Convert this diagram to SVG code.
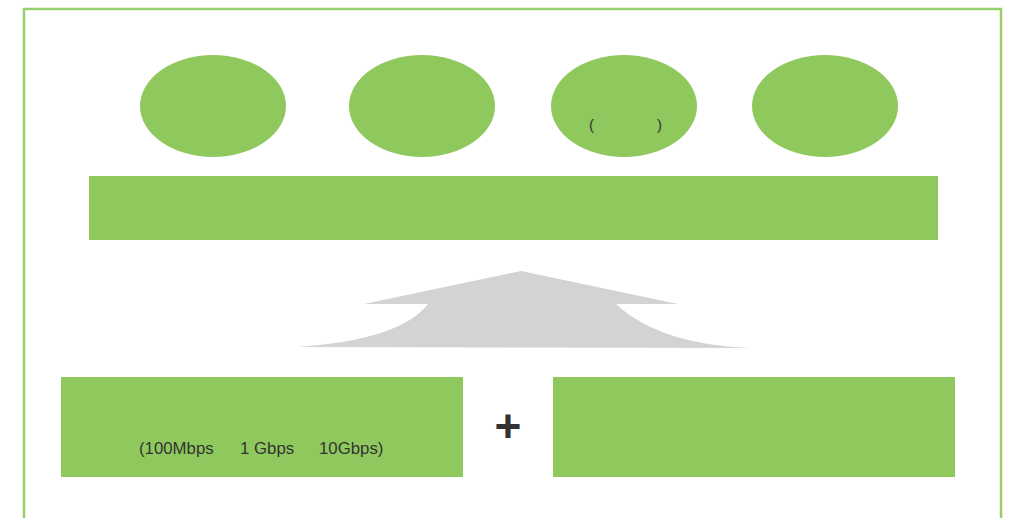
<svg xmlns="http://www.w3.org/2000/svg" width="1015" height="518" viewBox="0 0 1015 518">
<style>
.g{fill:#8fc95d}
.t{font-family:"Liberation Sans",Arial,sans-serif;fill:#333;}
.s{font-size:16.8px}
</style>
<rect width="1015" height="518" fill="#fff"/>
<rect x="24" y="9" width="977" height="530" fill="none" stroke="#96d06a" stroke-width="2.5"/>
<g id="e1"><ellipse class="g" cx="213" cy="106" rx="73" ry="51"/></g>
<g id="e2"><ellipse class="g" cx="422" cy="106" rx="73" ry="51"/></g>
<g id="e3"><ellipse class="g" cx="624" cy="106" rx="73" ry="51"/>
<text class="t" x="589" y="130" font-size="15">(</text>
<text class="t" x="657" y="130" font-size="15">)</text></g>
<g id="e4"><ellipse class="g" cx="825" cy="106" rx="73" ry="51"/></g>
<g id="bar"><rect class="g" x="89" y="176" width="849" height="64"/></g>
<g id="arrow"><path d="M521 271 L678 304 L616 304 Q660 345 753 348 L297 347 Q400 340 428 304 L364 304 Z" fill="#d2d3d5"/></g>
<g id="b1"><rect class="g" x="61" y="377" width="402" height="100"/>
<text class="t s" x="139" y="454">(100Mbps</text>
<text class="t s" x="240" y="454">1 Gbps</text>
<text class="t s" x="319" y="454">10Gbps)</text></g>
<g id="plus"><text class="t" x="508" y="442" font-size="46" font-weight="bold" text-anchor="middle" fill="#231f20">+</text></g>
<g id="b2"><rect class="g" x="553" y="377" width="402" height="100"/></g>
</svg>
